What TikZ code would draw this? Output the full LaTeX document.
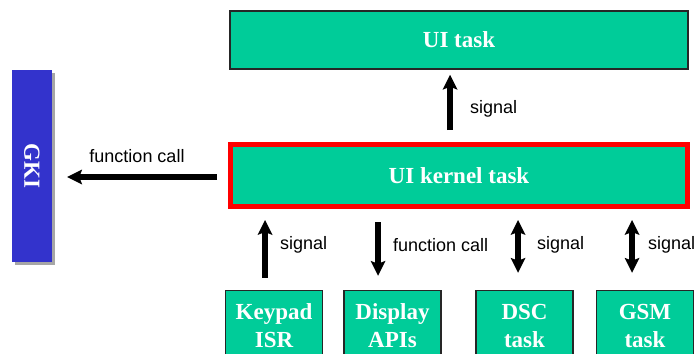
\documentclass[tikz,border=0pt]{standalone}
\usepackage{fontspec}
\usepackage{graphicx}
\setmainfont{Liberation Serif}
\setsansfont{Liberation Sans}
\usetikzlibrary{arrows.meta,shadows}
\definecolor{taskgreen}{HTML}{00CC99}
\definecolor{gkiblue}{HTML}{3333CC}
\begin{document}
\begin{tikzpicture}[x=1pt,y=-1pt,
  boxfont/.style={font=\fontsize{23}{28}\selectfont\bfseries},
  taskbox/.style={draw=black!85, line width=1.5pt, fill=taskgreen, text=white,
    boxfont, inner sep=0pt, align=center},
  tip/.tip={Stealth[length=15pt,width=15pt,inset=3pt,line width=0pt]},
  arr/.style={line width=5.5pt, -tip},
  darr/.style={line width=5.5pt, tip-tip},
  lbl/.style={font=\sffamily\fontsize{18}{20}\selectfont, inner sep=0pt, anchor=west}]
\useasboundingbox (0,0) rectangle (695,353);

% task boxes
\node[taskbox, minimum width=458pt, minimum height=58pt] (uitask) at (459,40) {UI task};
\node[taskbox, draw=red, line width=5pt, minimum width=457pt, minimum height=62pt]
  (kernel) at (459,175.5) {UI kernel task};

\node[taskbox, minimum width=97pt, minimum height=70pt] (keypad)  at (274,325.5)   {Keypad\\ISR};
\node[taskbox, minimum width=97pt, minimum height=70pt] (display) at (392.5,325.5) {Display\\APIs};
\node[taskbox, minimum width=97pt, minimum height=70pt] (dsc)     at (524.5,325.5) {DSC\\task};
\node[taskbox, minimum width=97pt, minimum height=70pt] (gsm)     at (645,325.5)   {GSM\\task};

% GKI column with its shadow
\node[fill=gkiblue, text=white, boxfont, inner sep=0pt,
  minimum width=40pt, minimum height=192pt,
  drop shadow={shadow xshift=3pt, shadow yshift=-3pt, fill=black!35, opacity=1}]
  (gki) at (32,166) {\rotatebox{-90}{GKI}};

% connectors
\draw[arr, shorten <=12pt, shorten >=5pt] ([xshift=-9pt]kernel.north) -- ([xshift=-9pt]uitask.south);
\node[lbl] (sigui) at (470,109) {signal};

\coordinate (kw) at ([yshift=-1.5pt]kernel.west);
\draw[arr, shorten <=11pt, shorten >=15pt] (kw) -- (kw -| gki.east);
\node[lbl, anchor=center] (fcgki) at (137,156) {function call};

\coordinate (kp) at ([xshift=-9pt]keypad.north);
\draw[arr, shorten <=12pt, shorten >=11pt] (kp) -- (kp |- kernel.south);
\node[lbl] (sigkp) at (280,245) {signal};

\coordinate (dp) at ([xshift=-14.5pt]display.north);
\draw[arr, shorten <=13pt, shorten >=14pt] (dp |- kernel.south) -- (dp);
\node[lbl] (fcdp) at (393,245) {function call};

\coordinate (ds) at ([xshift=-6.5pt]dsc.north);
\draw[darr, shorten <=17pt, shorten >=11pt] (ds) -- (ds |- kernel.south);
\node[lbl] (sigds) at (537,245) {signal};

\coordinate (gs) at ([xshift=-13pt]gsm.north);
\draw[darr, shorten <=17pt, shorten >=11pt] (gs) -- (gs |- kernel.south);
\node[lbl] (siggs) at (648,245) {signal};
\end{tikzpicture}
\end{document}
